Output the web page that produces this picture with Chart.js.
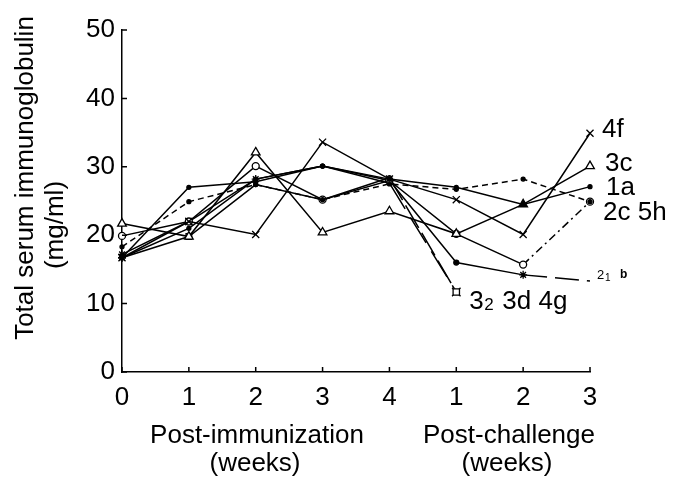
<!DOCTYPE html>
<html>
<head>
<meta charset="utf-8">
<script src="https://cdn.jsdelivr.net/npm/chart.js@4.4.1/dist/chart.umd.min.js"></script>
<style>
  html, body { margin: 0; padding: 0; background: #fff; }
  canvas { display: block; }
</style>
</head>
<body>
<canvas id="igChart" width="682" height="481"></canvas>
<script>
// weeks after immunization (0-4) then after challenge (1-3)
var weeks = ['0', '1', '2', '3', '4', '1', '2', '3'];
var yTicks = [0, 10, 20, 30, 40, 50];

// total serum immunoglobulin, mg/ml, one array per animal
var ig4f = [16.7, 22.0, 20.1, 33.6, 28.2, 25.2, 20.1, 34.9];
var ig3c = [21.7, 19.8, 32.1, 20.4, 23.5, 20.2, 24.5, 30.1];
var ig1a = [16.7, 27.0, 27.8, 30.1, 28.2, 27.0, 24.5, 27.1];
var ig2c = [18.3, 24.9, 27.4, 25.2, 27.5, 26.7, 28.2, 24.9];
var ig5h = [19.9, 22.0, 30.1, 25.2, 28.0, 20.2, 15.7, 24.9];
var ig2b = [16.7, 21.0, 28.2, 30.1, 28.0, 16.0, 14.2, 13.3];
var ig32 = [16.7, 19.8, 27.4, 25.2, 28.4, 11.7, null, null];
var ig3d = [17.2, 22.0, 28.2, 30.1, 27.6, 11.7, null, null];

var FONT = 'Liberation Sans, Arial, Helvetica, sans-serif';

function line(data, extra) {
  var ds = {
    data: data,
    borderColor: '#000',
    borderWidth: 1.5,
    pointBorderColor: '#000',
    pointBackgroundColor: '#fff',
    pointBorderWidth: 1.3,
    pointRadius: 4,
    tension: 0,
    spanGaps: false
  };
  for (var k in extra) ds[k] = extra[k];
  return ds;
}

// short dash on the last segment only
function lastSeg(dash) {
  return { borderDash: function (c) { return c.p0DataIndex === 6 ? dash : undefined; } };
}

// inward tick marks plus all of the free text
var decor = {
  id: 'decor',
  afterDraw: function (chart) {
    var ctx = chart.ctx;
    var xs = chart.scales.x, ys = chart.scales.y;
    var a = chart.chartArea;
    ctx.save();
    ctx.strokeStyle = '#000';
    ctx.lineWidth = 1.5;
    ctx.beginPath();
    yTicks.forEach(function (v) {
      var y = ys.getPixelForValue(v);
      ctx.moveTo(a.left, y); ctx.lineTo(a.left + 5, y);
    });
    weeks.forEach(function (w, i) {
      var x = xs.getPixelForValue(i);
      ctx.moveTo(x, a.bottom); ctx.lineTo(x, a.bottom - 5);
    });
    ctx.stroke();

    ctx.fillStyle = '#000';
    ctx.textBaseline = 'middle';

    // y axis title
    ctx.save();
    ctx.translate(26, 178);
    ctx.rotate(-Math.PI / 2);
    ctx.textAlign = 'center';
    ctx.font = '26px ' + FONT;
    ctx.fillText('Total serum immunoglobulin', 0, 0);
    ctx.restore();
    ctx.save();
    ctx.translate(56, 225);
    ctx.rotate(-Math.PI / 2);
    ctx.textAlign = 'center';
    ctx.font = '26px ' + FONT;
    ctx.fillText('(mg/ml)', 0, 0);
    ctx.restore();

    // x axis titles
    ctx.textAlign = 'center';
    ctx.font = '26px ' + FONT;
    ctx.fillText('Post-immunization', 257, 436);
    ctx.fillText('(weeks)', 255, 464);
    ctx.fillText('Post-challenge', 509, 436);
    ctx.fillText('(weeks)', 507, 464);

    // animal labels at the line ends
    var xe = xs.getPixelForValue(7);
    ctx.textAlign = 'left';
    ctx.fillText('4f', xe + 12, ys.getPixelForValue(ig4f[7]) - 3);
    ctx.fillText('3c', xe + 15, ys.getPixelForValue(ig3c[7]) - 2);
    ctx.fillText('1a', xe + 16, ys.getPixelForValue(ig1a[7]) + 1);
    ctx.fillText('2c 5h', xe + 13, ys.getPixelForValue(ig2c[7]) + 11);

    ctx.font = '13px ' + FONT;
    var yb = ys.getPixelForValue(ig2b[7]) - 6;
    ctx.fillText('2', xe + 7, yb);
    ctx.font = '10px ' + FONT;
    ctx.fillText('1', xe + 15, yb + 3);
    ctx.font = 'bold 12px ' + FONT;
    ctx.fillText('b', xe + 30, yb);

    var xg = xs.getPixelForValue(5) + 13;
    var yg = ys.getPixelForValue(ig32[5]) + 10;
    ctx.font = '26px ' + FONT;
    ctx.fillText('3', xg, yg);
    ctx.font = '17px ' + FONT;
    ctx.fillText('2', xg + 15, yg + 3);
    ctx.font = '26px ' + FONT;
    ctx.fillText('3d 4g', xg + 33, yg);
    ctx.restore();
  }
};

new Chart(document.getElementById('igChart').getContext('2d'), {
  type: 'line',
  data: {
    labels: weeks,
    datasets: [
      line(ig4f, { pointStyle: 'crossRot', pointRadius: 5 }),
      line(ig3c, {
        pointStyle: 'triangle', pointRadius: 5,
        pointBackgroundColor: ['#fff', '#fff', '#fff', '#fff', '#fff', '#fff', '#000', '#fff']
      }),
      line(ig1a, { pointStyle: 'circle', pointRadius: 2, pointBackgroundColor: '#000' }),
      line(ig2c, { borderDash: [6, 4], pointStyle: 'circle', pointRadius: 2, pointBackgroundColor: '#000' }),
      line(ig5h, { pointStyle: 'circle', pointRadius: 3.5, segment: lastSeg([8, 4, 2, 4]) }),
      line(ig2b, {
        pointStyle: ['star', 'circle', 'star', 'circle', 'star', 'circle', 'star', false],
        pointRadius: [4, 2, 4, 2, 4, 2.5, 4, 0],
        pointBackgroundColor: '#000',
        segment: lastSeg([24, 8])
      }),
      line(ig32, {
        pointStyle: ['star', 'rect', 'circle', 'circle', 'circle', 'rect', false, false],
        pointRadius: [4, 4, 2, 2, 2, 4.5, 0, 0],
        segment: { borderDash: function (c) { return c.p0DataIndex === 4 ? [26, 6] : undefined; } }
      }),
      line(ig3d, {
        pointStyle: ['star', 'crossRot', 'circle', 'circle', 'circle', 'crossRot', false, false],
        pointRadius: [4, 5, 2, 2, 2, 6, 0, 0],
        pointBackgroundColor: '#000',
        segment: { borderDash: function (c) { return c.p0DataIndex === 4 ? [30, 10] : undefined; } }
      })
    ]
  },
  plugins: [decor],
  options: {
    responsive: false,
    animation: false,
    devicePixelRatio: 1,
    layout: { padding: { left: 0, right: 92, top: 30, bottom: 0 } },
    plugins: { legend: { display: false }, tooltip: { enabled: false } },
    scales: {
      x: {
        offset: false,
        grid: { display: false, drawTicks: false },
        border: { color: '#000', width: 1.5 },
        ticks: { color: '#000', font: { size: 26, family: FONT }, padding: 10, maxRotation: 0, autoSkip: false },
        afterFit: function (s) { s.height = 109; }
      },
      y: {
        min: 0, max: 50,
        grid: { display: false, drawTicks: false },
        border: { color: '#000', width: 1.5 },
        ticks: { color: '#000', font: { size: 26, family: FONT }, padding: 7, stepSize: 10 },
        afterFit: function (s) { s.width = 122; }
      }
    }
  }
});
</script>
</body>
</html>
